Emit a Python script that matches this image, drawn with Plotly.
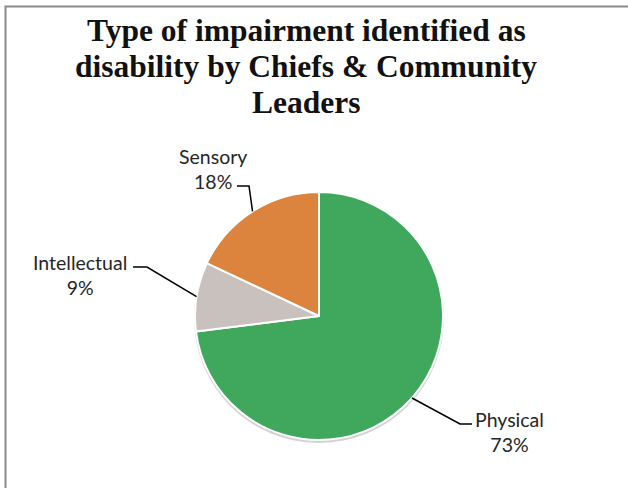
import math
import plotly.graph_objects as go

# Survey result: impairment types named as disability
categories = ["Physical", "Intellectual", "Sensory"]
shares = [73, 9, 18]
slice_colors = ["#3FA85C", "#C9C1BE", "#DC843E"]
title_lines = ["Type of impairment identified as",
               "disability by Chiefs &amp; Community",
               "Leaders"]

W, H = 628, 488
CX, CY, R = 319, 316, 124  # pie centre and radius in pixels (from top-left)


def px_to_paper(x, y):
    return x / W, 1 - y / H


# label text anchor and leader-line elbow per slice, in pixels
label_pos = {
    "Physical": (509, 432),
    "Intellectual": (80, 275),
    "Sensory": (213, 169),
}
elbows = {
    "Physical": [(460, 424), (472, 424)],
    "Intellectual": [(147, 267), (133, 267)],
    "Sensory": [(249, 186), (237, 186)],
}

fig = go.Figure()

# soft drop shadow behind the pie
sx0, sy0 = px_to_paper(CX - R - 1, CY - R + 1)
sx1, sy1 = px_to_paper(CX + R + 1, CY + R + 3)
fig.add_shape(type="circle", xref="paper", yref="paper",
              x0=sx0, x1=sx1, y0=sy1, y1=sy0,
              fillcolor="rgba(0,0,0,0.18)", line=dict(width=0), layer="below")

dx0, dy1 = px_to_paper(CX - R, CY - R)
dx1, dy0 = px_to_paper(CX + R, CY + R)
fig.add_trace(go.Pie(
    labels=categories,
    values=shares,
    sort=False,
    direction="clockwise",
    rotation=0,
    marker=dict(colors=slice_colors, line=dict(color="white", width=2)),
    textinfo="none",
    hoverinfo="label+percent",
    showlegend=False,
    domain=dict(x=[dx0, dx1], y=[dy0, dy1]),
))

# leader lines start at each slice's mid-angle on the rim
total = sum(shares)
cum = 0
for cat, val in zip(categories, shares):
    mid = (cum + val / 2) / total * 2 * math.pi
    cum += val
    ex = CX + R * math.sin(mid)
    ey = CY - R * math.cos(mid)
    pts = [(ex, ey)] + elbows[cat]
    path = ""
    for i, (x, y) in enumerate(pts):
        px, py = px_to_paper(x, y)
        path += ("M" if i == 0 else " L") + f" {px} {py}"
    fig.add_shape(type="path", xref="paper", yref="paper", path=path,
                  line=dict(color="black", width=1.5))
    lx, ly = px_to_paper(*label_pos[cat])
    pct = round(val / total * 100)
    fig.add_annotation(x=lx, y=ly, xref="paper", yref="paper",
                       text=f"{cat}<br>{pct}%", showarrow=False,
                       xanchor="center", yanchor="middle", align="center",
                       font=dict(family="Lato, sans-serif", size=19.5, color="#262626"))

# title, one annotation per line for tight leading
for i, line in enumerate(title_lines):
    tx, ty = px_to_paper(306, 31 + 35.5 * i)
    fig.add_annotation(x=tx, y=ty, xref="paper", yref="paper",
                       text=f"<b>{line}</b>",
                       showarrow=False, xanchor="center", yanchor="middle",
                       font=dict(family="Liberation Serif, serif", size=31.5, color="#111111"))

# chart frame
bx0, by1 = px_to_paper(5.5, 6.5)
fig.add_shape(type="rect", xref="paper", yref="paper",
              x0=bx0, x1=1.02, y0=-0.02, y1=by1,
              line=dict(color="#8a8a8a", width=2), fillcolor="rgba(0,0,0,0)")

fig.update_layout(
    width=W, height=H,
    margin=dict(l=0, r=0, t=0, b=0),
    paper_bgcolor="white",
    plot_bgcolor="white",
)

fig.write_html("out.html")
